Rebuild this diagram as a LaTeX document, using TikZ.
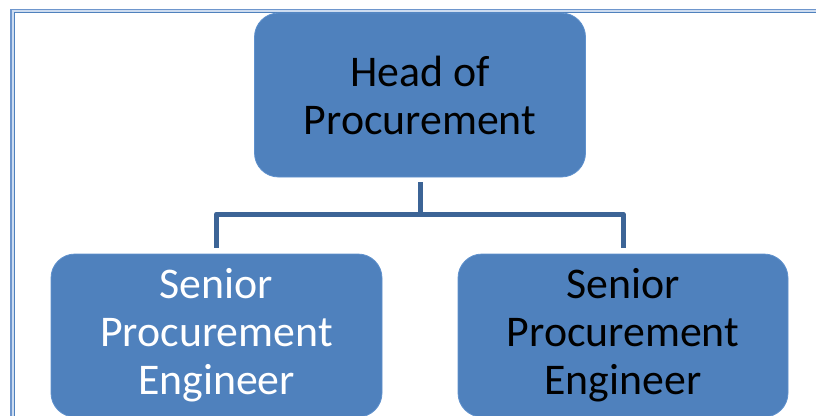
\documentclass[tikz,border=0pt]{standalone}
\usepackage{fontspec}
\setmainfont{Carlito}
\definecolor{boxfill}{RGB}{79,129,189}
\definecolor{boxedge}{RGB}{95,145,205}
\definecolor{connc}{RGB}{60,100,150}
\definecolor{frameout}{RGB}{110,150,205}
\definecolor{framemid}{RGB}{205,220,240}
\definecolor{framein}{RGB}{79,129,189}
\tikzset{
  orgbox/.style={draw=boxedge, line width=0.8pt, fill=boxfill, rounded corners=24pt,
    align=center, inner sep=0pt, font=\fontsize{43.8}{48}\selectfont},
  conn/.style={draw=connc, line width=5pt, line join=round},
}
\begin{document}
\begin{tikzpicture}[x=1pt,y=-1pt]
\useasboundingbox (0,0) rectangle (816,415);
% frame
\draw[framemid, line width=3.5pt] (12.75,420) -- (12.75,11) -- (820,11);
\draw[frameout, line width=1.1pt] (11,420) -- (11,9.5) -- (820,9.5);
\draw[framein, line width=1.1pt] (14.5,420) -- (14.5,12.8) -- (820,12.8);
% boxes
\node[orgbox, minimum width=331pt, minimum height=164pt, text=black] (top) at (420,95) {Head of\\Procurement};
\node[orgbox, minimum width=331pt, minimum height=163pt, text=white] (left) at (216.5,335.5) {Senior\\Procurement\\Engineer};
\node[orgbox, minimum width=330pt, minimum height=163pt, text=black] (right) at (623,335.5) {Senior\\Procurement\\Engineer};
% connectors
\coordinate (hline) at (0,214);
\coordinate (junc) at (top.south |- hline);
\draw[conn] ([yshift=-5pt]top.south) -- (junc);
\draw[conn] (junc) -| ([yshift=6pt]left.north);
\draw[conn] (junc) -| ([yshift=6pt]right.north);
\end{tikzpicture}
\end{document}
